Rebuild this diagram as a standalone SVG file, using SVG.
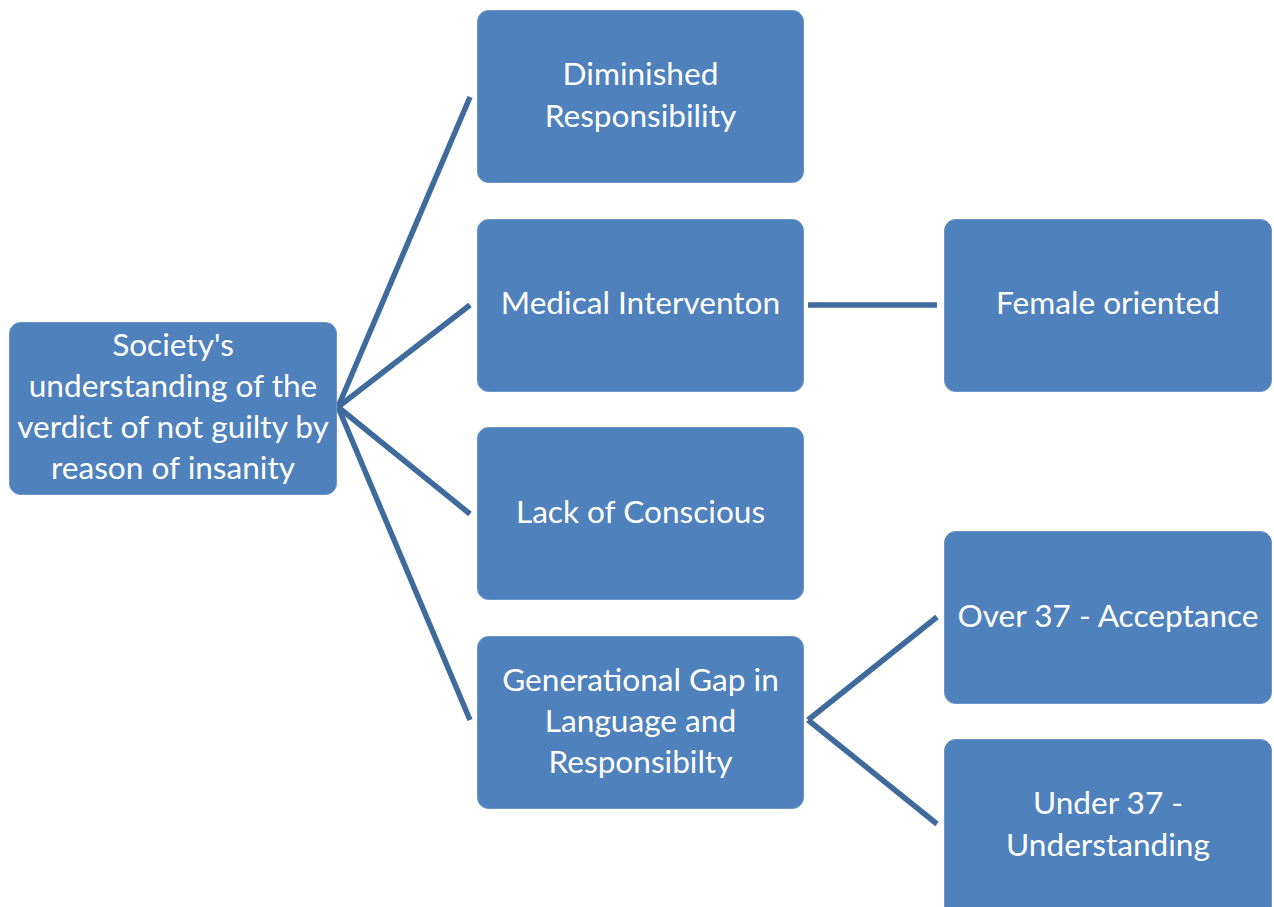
<svg xmlns="http://www.w3.org/2000/svg" width="1274" height="907" viewBox="0 0 1274 907">
<style>
.box{fill:#4F81BD;stroke:#6A93C6;stroke-width:1}
.t{font-family:Lato,"Open Sans","Liberation Sans",sans-serif;font-size:31.6px;fill:#FFFFFF;text-anchor:middle}
.c{stroke:#3F6A9C;stroke-width:5.5;fill:none}
</style>
<rect width="1274" height="907" fill="#FFFFFF"/>
<g id="connectors">
<line class="c" x1="338" y1="407" x2="470" y2="97"/>
<line class="c" x1="338" y1="407" x2="470" y2="305"/>
<line class="c" x1="338" y1="407" x2="470" y2="514"/>
<line class="c" x1="338" y1="407" x2="470" y2="720"/>
<line class="c" x1="808" y1="305" x2="937" y2="305"/>
<line class="c" x1="808" y1="720" x2="937" y2="617"/>
<line class="c" x1="808" y1="720" x2="937" y2="824"/>
</g>
<g id="root">
<rect class="box" x="9.5" y="322.5" width="327" height="172" rx="11"/>
<text class="t" x="173" y="356">Society's</text>
<text class="t" x="173" y="397">understanding of the</text>
<text class="t" x="173" y="438">verdict of not guilty by</text>
<text class="t" x="173" y="479">reason of insanity</text>
</g>
<g id="diminished">
<rect class="box" x="477.5" y="10.5" width="326" height="172" rx="11"/>
<text class="t" x="640.5" y="85">Diminished</text>
<text class="t" x="640.5" y="127">Responsibility</text>
</g>
<g id="medical">
<rect class="box" x="477.5" y="219.5" width="326" height="172" rx="11"/>
<text class="t" x="640.5" y="314">Medical Interventon</text>
</g>
<g id="lack">
<rect class="box" x="477.5" y="427.5" width="326" height="172" rx="11"/>
<text class="t" x="640.5" y="523">Lack of Conscious</text>
</g>
<g id="generational">
<rect class="box" x="477.5" y="636.5" width="326" height="172" rx="11"/>
<text class="t" x="640.5" y="691">Generational Gap in</text>
<text class="t" x="640.5" y="732">Language and</text>
<text class="t" x="640.5" y="773">Responsibilty</text>
</g>
<g id="female">
<rect class="box" x="944.5" y="219.5" width="327" height="172" rx="11"/>
<text class="t" x="1108" y="314">Female oriented</text>
</g>
<g id="over37">
<rect class="box" x="944.5" y="531.5" width="327" height="172" rx="11"/>
<text class="t" x="1108" y="627">Over 37 - Acceptance</text>
</g>
<g id="under37">
<rect class="box" x="944.5" y="739.5" width="327" height="180" rx="11"/>
<text class="t" x="1108" y="814">Under 37 -</text>
<text class="t" x="1108" y="856">Understanding</text>
</g>
</svg>
